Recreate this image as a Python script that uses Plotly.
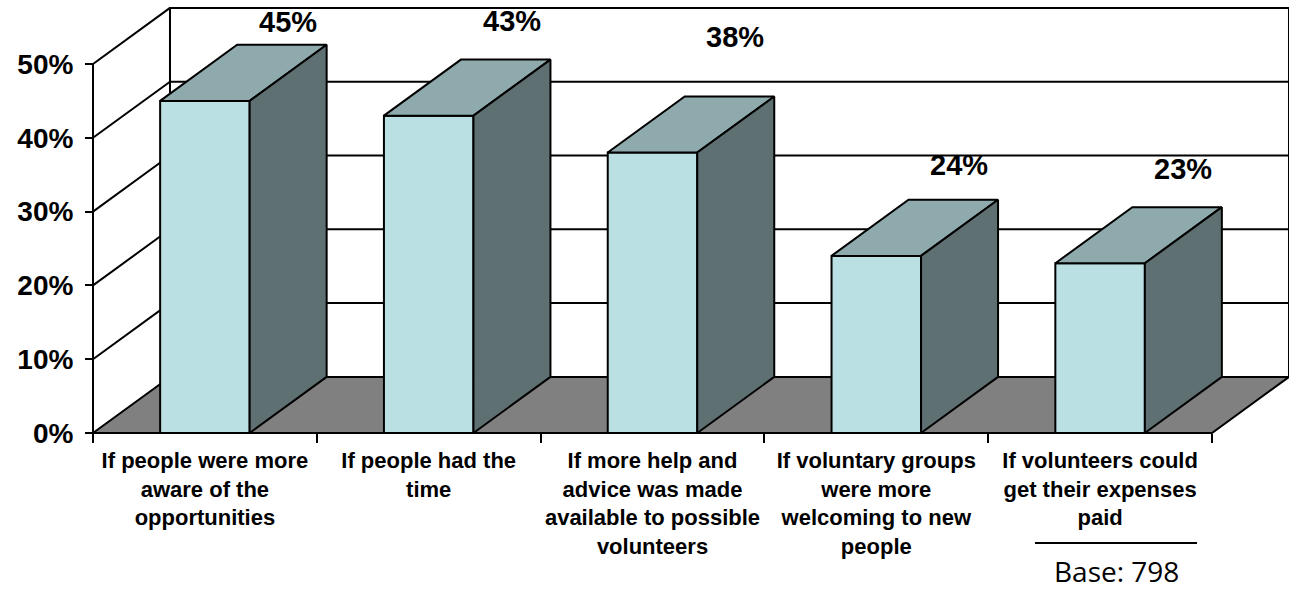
import plotly.graph_objects as go

# ---------------- data ----------------
categories = [
    "If people were more<br>aware of the<br>opportunities",
    "If people had the<br>time",
    "If more help and<br>advice was made<br>available to possible<br>volunteers",
    "If voluntary groups<br>were more<br>welcoming to new<br>people",
    "If volunteers could<br>get their expenses<br>paid",
]
values = [45, 43, 38, 24, 23]
value_labels = ["45%", "43%", "38%", "24%", "23%"]
y_ticks = [0, 10, 20, 30, 40, 50]
y_tick_labels = ["0%", "10%", "20%", "30%", "40%", "50%"]
base_note = "Base: 798"

# ---------------- layout / style ----------------
W, H = 1289, 589
ML, MR, MT, MB = 80, 0, 0, 140
PX_PER_CAT = 223.8          # pixels per category slot
PX_PER_PCT = 7.38           # pixels per percentage point
ORIGIN_PX = (93, 433)       # where (x=0, y=0%) sits on the page
DEPTH_X, DEPTH_Y = 0.344, 7.6   # 3-D depth offset in data units
BAR_OFFSET, BAR_WIDTH = 0.3, 0.4
WALL_TOP = 50
LABEL_LIFT_PX = [79, 95, 116, 91, 94]
LABEL_SHIFT_PX = 6

FRONT = "#BBE0E3"
TOP = "#8FAAAC"
SIDE = "#5F7072"
FLOOR = "#808080"
LINE = "black"
LW = 2

plot_w = W - ML - MR
plot_h = H - MT - MB
xmin = -(ORIGIN_PX[0] - ML) / PX_PER_CAT
xmax = xmin + plot_w / PX_PER_CAT
ymin = -((H - MB) - ORIGIN_PX[1]) / PX_PER_PCT
ymax = ymin + plot_h / PX_PER_PCT
n = len(values)

fig = go.Figure()


def poly(xs, ys, fill):
    fig.add_trace(go.Scatter(
        x=list(xs) + [xs[0]], y=list(ys) + [ys[0]], mode="lines",
        fill="toself", fillcolor=fill,
        line=dict(color=LINE, width=LW), hoverinfo="skip", showlegend=False))


def lines(segs, width=LW):
    xs, ys = [], []
    for (x0, y0, x1, y1) in segs:
        xs += [x0, x1, None]
        ys += [y0, y1, None]
    fig.add_trace(go.Scatter(x=xs, y=ys, mode="lines",
                             line=dict(color=LINE, width=width),
                             hoverinfo="skip", showlegend=False))


# back wall
poly([DEPTH_X, n + DEPTH_X, n + DEPTH_X, DEPTH_X],
     [DEPTH_Y, DEPTH_Y, DEPTH_Y + WALL_TOP, DEPTH_Y + WALL_TOP], "white")
# back-wall gridlines
lines([(DEPTH_X, DEPTH_Y + t, n + DEPTH_X, DEPTH_Y + t) for t in y_ticks[1:-1]])
# left wall gridlines (diagonals) and front edge
lines([(0, t, DEPTH_X, DEPTH_Y + t) for t in y_ticks[1:]] + [(0, 0, 0, WALL_TOP)])
# floor
poly([0, n, n + DEPTH_X, DEPTH_X], [0, 0, DEPTH_Y, DEPTH_Y], FLOOR)

# bars
for i, v in enumerate(values):
    xl = i + BAR_OFFSET
    xr = xl + BAR_WIDTH
    poly([xl, xr, xr, xl], [0, 0, v, v], FRONT)
    poly([xl, xr, xr + DEPTH_X, xl + DEPTH_X], [v, v, v + DEPTH_Y, v + DEPTH_Y], TOP)
    poly([xr, xr + DEPTH_X, xr + DEPTH_X, xr], [0, DEPTH_Y, v + DEPTH_Y, v], SIDE)

annotations = []
for i, (v, lab) in enumerate(zip(values, value_labels)):
    annotations.append(dict(
        x=i + BAR_OFFSET + BAR_WIDTH / 2 + DEPTH_X, y=v, xref="x", yref="y",
        text=lab, showarrow=False, xshift=LABEL_SHIFT_PX, yshift=LABEL_LIFT_PX[i],
        font=dict(family="Liberation Sans, Arial", size=29, color="black", weight="bold")))


def paper(px, py):
    return (px - ML) / plot_w, ((H - MB) - py) / plot_h


bx, by = paper(1116, 571)
annotations.append(dict(x=bx, y=by, xref="paper", yref="paper", text=base_note,
                        showarrow=False, xanchor="center", yanchor="middle",
                        font=dict(family="Open Sans", size=28, color="black")))
lx0, ly = paper(1035, 543)
lx1, _ = paper(1197, 543)

fig.update_layout(
    width=W, height=H,
    margin=dict(l=ML, r=MR, t=MT, b=MB, pad=0),
    paper_bgcolor="white", plot_bgcolor="white",
    showlegend=False,
    annotations=annotations,
    shapes=[dict(type="line", xref="paper", yref="paper", x0=lx0, x1=lx1, y0=ly, y1=ly,
                 line=dict(color="black", width=2))],
    xaxis=dict(
        range=[xmin, xmax], anchor="free", position=(0 - ymin) / (ymax - ymin),
        showgrid=False, zeroline=False, showline=False,
        tickmode="array", tickvals=[i + 0.5 for i in range(n)], ticktext=categories,
        ticks="", tickangle=0, ticklabelstandoff=12,
        tickfont=dict(family="Liberation Sans, Arial", size=22, color="black", weight="bold"),
        minor=dict(tickmode="array", tickvals=list(range(n + 1)), ticks="outside",
                   ticklen=9, tickwidth=2, tickcolor="black", showgrid=False),
        fixedrange=True,
    ),
    yaxis=dict(
        range=[ymin, ymax], anchor="free", position=(0 - xmin) / (xmax - xmin),
        showgrid=False, zeroline=False, showline=False,
        tickmode="array", tickvals=y_ticks, ticktext=y_tick_labels,
        ticks="outside", ticklen=8, tickwidth=2, tickcolor="black", ticklabelstandoff=6,
        tickfont=dict(family="Liberation Sans, Arial", size=28, color="black", weight="bold"),
        fixedrange=True,
    ),
)

fig.write_html("out.html", config={"displayModeBar": False})
